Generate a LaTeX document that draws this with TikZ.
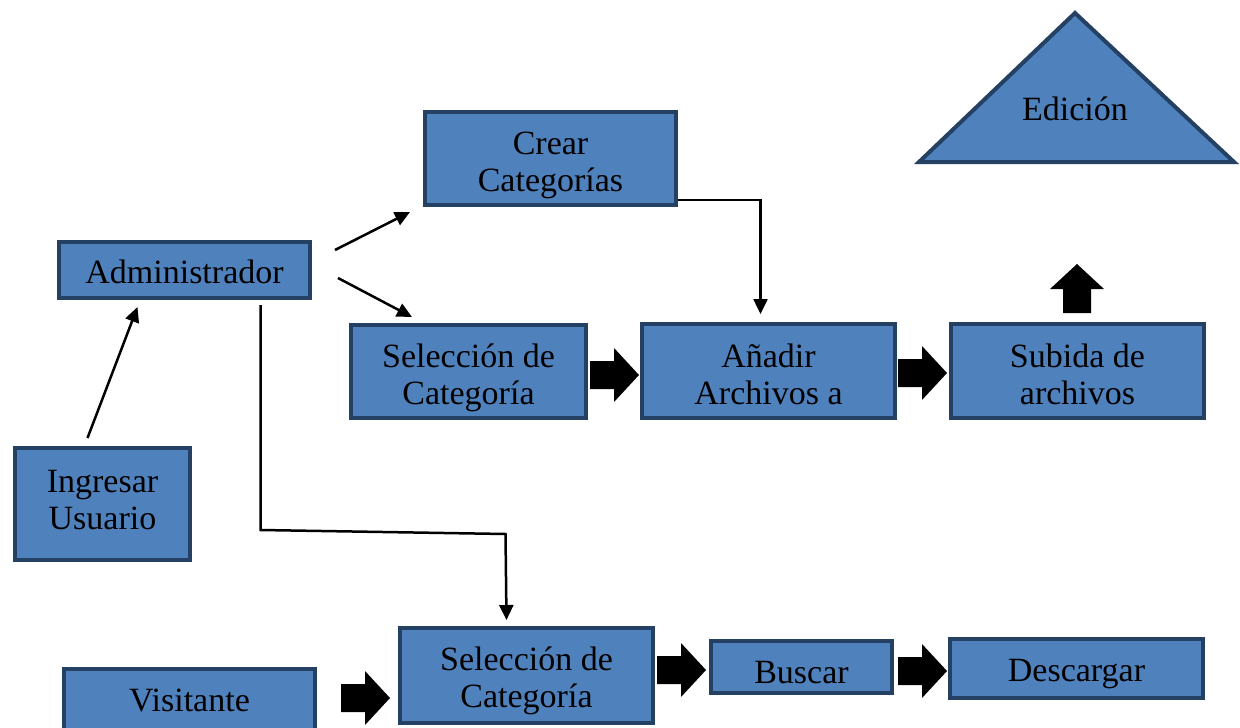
\documentclass[tikz,border=0pt]{standalone}
\usepackage{fontspec}
\setmainfont{Liberation Serif}
\usetikzlibrary{positioning,calc,arrows.meta}

\definecolor{boxfill}{RGB}{79,129,189}
\definecolor{boxline}{RGB}{36,64,98}
\newcommand\padtop[1]{\rule{0pt}{#1}}

\tikzset{
  box/.style={draw=boxline, line width=4pt, fill=boxfill, align=center,
    inner sep=0pt, font=\fontsize{34}{37}\selectfont},
  drop/.style={execute at begin node={\rule{0pt}{#1}}},
  lift/.style={execute at end node={\rule[-#1]{0pt}{#1}}},
  pics/fatarrow/.style={code={
    \fill (-24,-14) -- (0,-14) -- (0,-27) -- (25,0) -- (0,27) -- (0,14) -- (-24,14) -- cycle;}}
}

\begin{document}
\begin{tikzpicture}[x=1pt,y=-1pt,->,>={Triangle[length=15pt,width=14pt]},line width=2.5pt]
\useasboundingbox (0,0) rectangle (1240,728);
\clip (0,0) rectangle (1240,728);
%
\node[box, drop=27pt, minimum width=251pt, minimum height=56pt] (adm) at (184.5,270) {Administrador};
\node[box, minimum width=251pt, minimum height=93pt] (crear) at (550.5,158.5) {\padtop{36.5pt}Crear\\Categorías};
\node[box, minimum width=235pt, minimum height=93pt] (selA) at (468.5,371.5) {\padtop{35.5pt}Selección de\\Categoría};
\node[box, minimum width=253pt, minimum height=94pt] (anadir) at (768.5,371) {\padtop{30pt}Añadir\\Archivos a};
\node[box, minimum width=253pt, minimum height=94pt] (subida) at (1077.5,371) {\padtop{30pt}Subida de\\archivos};
\node[box, lift=8pt, minimum width=175pt, minimum height=112pt] (ing) at (102.5,504) {Ingresar\\Usuario};
%
\node[box, minimum width=253pt, minimum height=95pt] (selB) at (526.5,675.5) {\padtop{34.5pt}Selección de\\Categoría};
\node[box, drop=33pt, minimum width=181pt, minimum height=52pt] (buscar) at (801.5,667) {Buscar};
\node[box, drop=33pt, minimum width=253pt, minimum height=59pt] (desc) at (1076.5,668.5) {Descargar};
\node[box, minimum width=251pt, minimum height=63pt] (vis) at (189.5,700.5) {Visitante};
%
\draw[-, draw=boxline, fill=boxfill, line width=4pt] (1075,13) -- (1234,162) -- (919,162) -- cycle;
\node[font=\fontsize{34}{37}\selectfont] (edicion) at (1075,109) {Edición};
%
\draw ($(adm.east)+(23,-20)$) -- ($(crear.south west)+(-13,5)$);
\draw ($(adm.east)+(26,8)$) -- ($(selA.north west)+(63,-6)$);
\draw ($(ing.north)+(-15,-8)$) -- ($(adm.south)+(-47,7)$);
\draw ($(crear.south east)+(0,-7)$) -| ($(anadir.north)+(-8,-8)$);
\draw ($(adm.south)+(76,5)$) -- ++(0,225) -- ($(selB.north)+(-21,-92)$) -- ($(selB.north)+(-20,-6)$);
%
\pic at (614,375) {fatarrow};
\pic at (922,373) {fatarrow};
\pic[rotate=90] at (1077,289) {fatarrow};
\pic at (365,698) {fatarrow};
\pic at (681,670) {fatarrow};
\pic at (922,671) {fatarrow};
\end{tikzpicture}
\end{document}
